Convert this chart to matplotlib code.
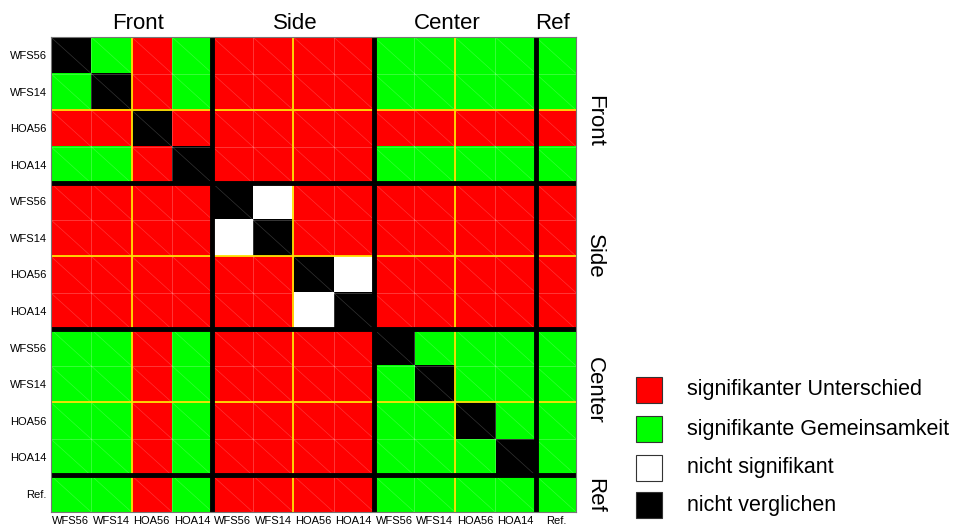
import matplotlib
matplotlib.use("Agg")
import matplotlib.pyplot as plt
import matplotlib.patches as patches
from matplotlib.colors import ListedColormap
import numpy as np

plt.rcParams["font.family"] = ["Liberation Sans", "DejaVu Sans"]

# ----------------------------------
# DATA
# ----------------------------------
# codes: 0 = nicht verglichen, 1 = Unterschied, 2 = Gemeinsamkeit, 3 = nicht signifikant
tick_labels = ["WFS56", "WFS14", "HOA56", "HOA14"] * 3 + ["Ref."]
group_names = ["Front", "Side", "Center", "Ref"]

matrix = [
    [0, 2, 1, 2, 1, 1, 1, 1, 2, 2, 2, 2, 2],
    [2, 0, 1, 2, 1, 1, 1, 1, 2, 2, 2, 2, 2],
    [1, 1, 0, 1, 1, 1, 1, 1, 1, 1, 1, 1, 1],
    [2, 2, 1, 0, 1, 1, 1, 1, 2, 2, 2, 2, 2],
    [1, 1, 1, 1, 0, 3, 1, 1, 1, 1, 1, 1, 1],
    [1, 1, 1, 1, 3, 0, 1, 1, 1, 1, 1, 1, 1],
    [1, 1, 1, 1, 1, 1, 0, 3, 1, 1, 1, 1, 1],
    [1, 1, 1, 1, 1, 1, 3, 0, 1, 1, 1, 1, 1],
    [2, 2, 1, 2, 1, 1, 1, 1, 0, 2, 2, 2, 2],
    [2, 2, 1, 2, 1, 1, 1, 1, 2, 0, 2, 2, 2],
    [2, 2, 1, 2, 1, 1, 1, 1, 2, 2, 0, 2, 2],
    [2, 2, 1, 2, 1, 1, 1, 1, 2, 2, 2, 0, 2],
    [2, 2, 1, 2, 1, 1, 1, 1, 2, 2, 2, 2, 2],
]

legend_labels = [
    ("signifikanter Unterschied", "#FF0000"),
    ("signifikante Gemeinsamkeit", "#00FF00"),
    ("nicht signifikant", "#FFFFFF"),
    ("nicht verglichen", "#000000"),
]

# ----------------------------------
# FIGURE
# ----------------------------------
M = np.array(matrix)
n = M.shape[0]
cmap = ListedColormap(["#000000", "#FF0000", "#00FF00", "#FFFFFF"])

fig = plt.figure(figsize=(9.64, 5.29), dpi=100)
ax = fig.add_axes([0.0526, 0.0321, 0.5450, 0.898])

ax.imshow(M, cmap=cmap, vmin=-0.5, vmax=3.5, extent=(0, n, n, 0),
          aspect="auto", interpolation="nearest")

# faint cell borders + diagonals
for k in range(1, n):
    ax.axhline(k, color="white", lw=0.6, alpha=0.25)
    ax.axvline(k, color="white", lw=0.6, alpha=0.25)
for i in range(n):
    for j in range(n):
        ax.plot([j, j + 1], [i, i + 1], color="white", lw=0.5, alpha=0.2)

# yellow mid-group lines, black group separators
for k in (2, 6, 10):
    ax.axhline(k, color="#FFE000", lw=1.3)
    ax.axvline(k, color="#FFE000", lw=1.3)
for k in (4, 8, 12):
    ax.axhline(k, color="black", lw=3.5)
    ax.axvline(k, color="black", lw=3.5)

ax.set_xlim(0, n)
ax.set_ylim(n, 0)
ax.set_xticks(np.arange(n) + 0.5)
ax.set_xticklabels(tick_labels, fontsize=8)
ax.set_yticks(np.arange(n) + 0.5)
ax.set_yticklabels(tick_labels, fontsize=8)
ax.tick_params(length=0, pad=3)
for s in ax.spines.values():
    s.set_color("#777777")
    s.set_linewidth(0.8)

# group labels
top_pos = [2.16, 6.05, 9.82, 12.42]
right_pos = [2.3, 6.0, 9.66, 12.54]
for name, x in zip(group_names, top_pos):
    ax.text(x, -0.22, name, ha="center", va="baseline", fontsize=16)
for name, y in zip(group_names, right_pos):
    ax.text(n + 0.2, y, name, ha="left", va="center", rotation=-90, fontsize=16)

# legend
sq_w, sq_h = 26 / 964, 26 / 529
ys = [390, 429, 468, 505]
for (lab, col), yp in zip(legend_labels, ys):
    yc = 1 - yp / 529
    fig.patches.append(patches.Rectangle((636 / 964, yc - sq_h / 2), sq_w, sq_h,
                                         facecolor=col, edgecolor="#333333",
                                         lw=0.8, transform=fig.transFigure))
    fig.text(687 / 964, yc, lab, ha="left", va="center", fontsize=15.5)

fig.savefig("out.png", dpi=100)
